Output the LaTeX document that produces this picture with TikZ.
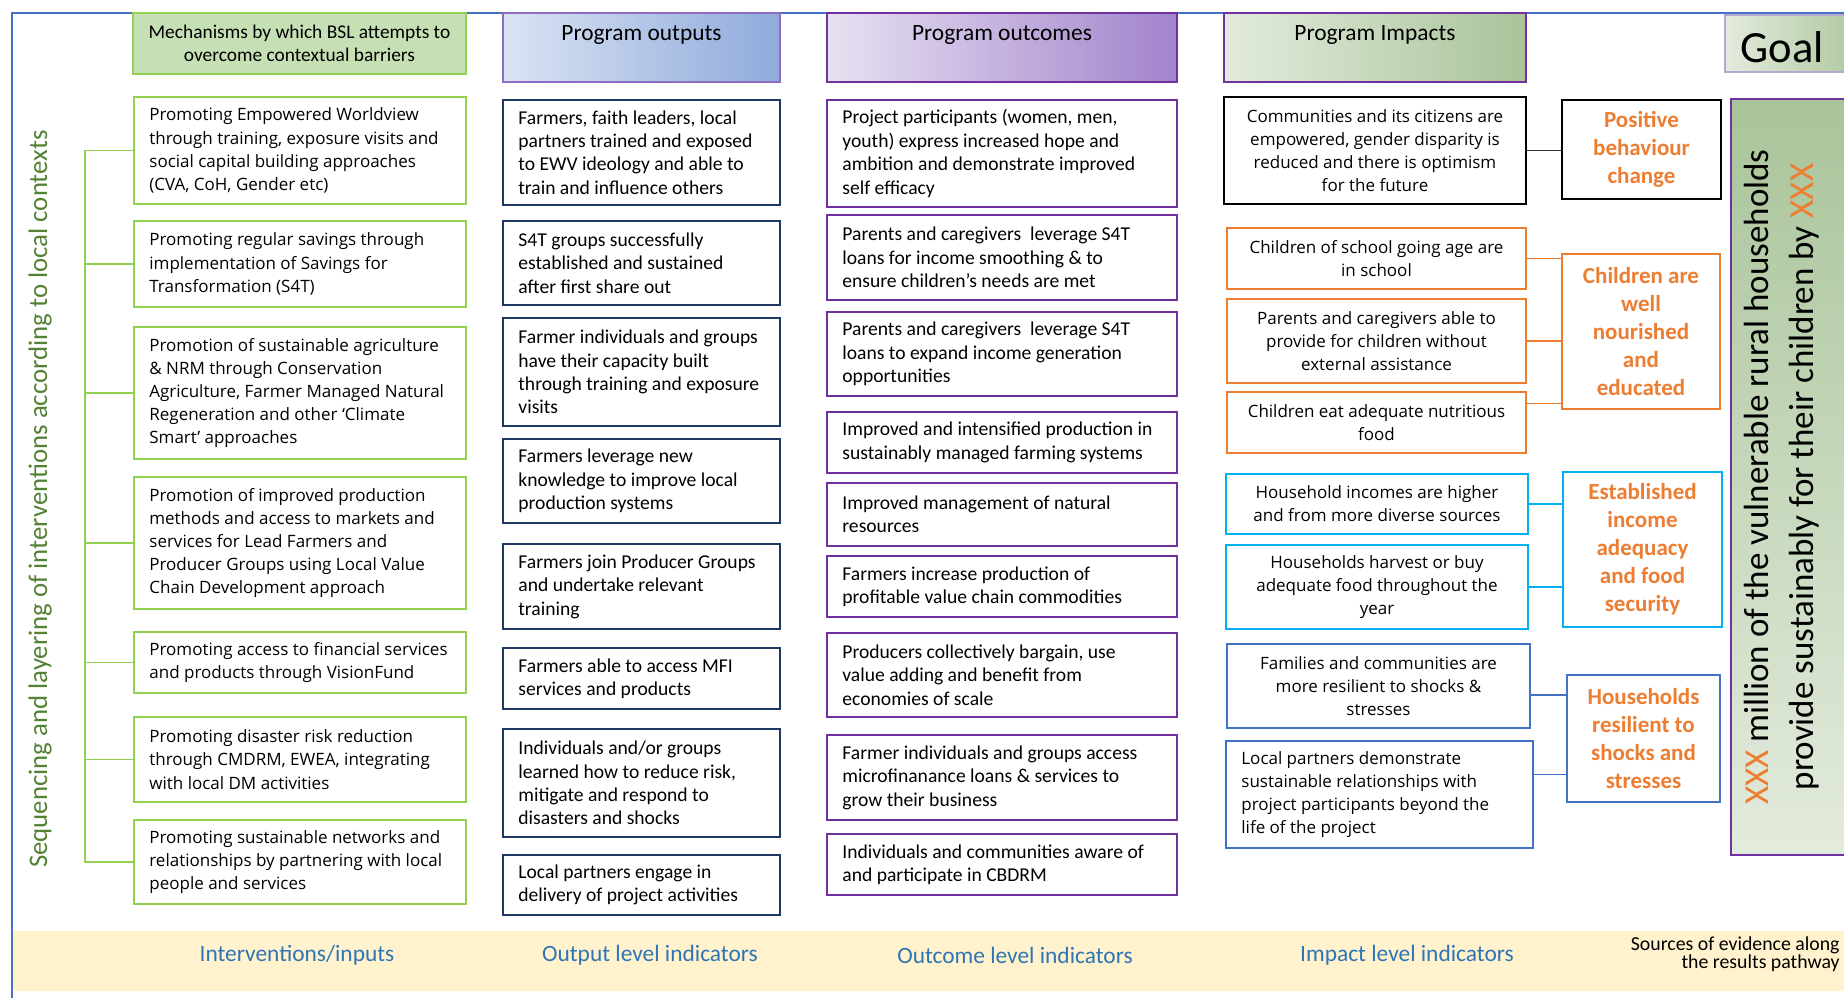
\documentclass[tikz,border=0pt]{standalone}
\usepackage{fontspec}
\setmainfont{Carlito}
\newfontfamily\osans{Open Sans}
\usetikzlibrary{calc}

\definecolor{frameblue}{HTML}{4472C4}
\definecolor{lgreen}{HTML}{92D050}
\definecolor{hgreen}{HTML}{C5E0B4}
\definecolor{navy}{HTML}{203864}
\definecolor{purp}{HTML}{7030A0}
\definecolor{lpurp}{HTML}{8E6CC4}
\definecolor{goalpurp}{HTML}{B4A7D6}
\definecolor{orng}{HTML}{ED7D31}
\definecolor{cyanb}{HTML}{00B0F0}
\definecolor{blueb}{HTML}{4472C4}
\definecolor{band}{HTML}{FFF2CC}
\definecolor{lblue}{HTML}{2E75B6}
\definecolor{dgreen}{HTML}{548235}
\definecolor{gdark}{HTML}{A9C49A}
\definecolor{glight}{HTML}{E3EBDD}
\definecolor{bluel}{HTML}{DAE3F3}
\definecolor{blued}{HTML}{8FAADC}
\definecolor{purl}{HTML}{E7E1F1}
\definecolor{purd}{HTML}{A283CC}

% rectangle node given by its corners (x1,y1) (x2,y2) in pixel units
\newcommand\rectnode[6]{%
  \pgfmathsetmacro\pcx{(#3+#5)/2}%
  \pgfmathsetmacro\pcy{(#4+#6)/2}%
  \pgfmathsetmacro\pw{(#5-#3)/2}%
  \pgfmathsetmacro\ph{(#6-#4)/2}%
  \node[#1, minimum width=\pw pt, minimum height=\ph pt] (#2) at (\pcx,\pcy)}

\begin{document}
\begin{tikzpicture}[x=0.5pt,y=-0.5pt,
  base/.style={draw, line width=1.1pt, inner sep=0pt, outer sep=0pt},
  ibox/.style={base, draw=lgreen},
  obox/.style={base, draw=navy},
  cbox/.style={base, draw=purp},
  kbox/.style={base, draw=black},
  orbox/.style={base, draw=orng},
  cybox/.style={base, draw=cyanb},
  blbox/.style={base, draw=blueb},
  wide/.style={font=\osans\fontsize{8.5}{11.6}\selectfont},
  narrow/.style={font=\fontsize{9.8}{11.7}\selectfont},
  ltext/.style={anchor=west, align=left, inner sep=0pt, xshift=7.5pt},
  ctext/.style={align=center, wide},
  sumtext/.style={align=center, text=orng, font=\bfseries\fontsize{11.5}{14}\selectfont},
  hdr/.style={font=\fontsize{11.7}{14}\selectfont, anchor=base, inner sep=0pt},
  botlab/.style={font=\fontsize{11.7}{14}\selectfont, text=lblue, inner sep=0pt},
  conn/.style={line width=0.7pt},
  brk/.style={line width=0.7pt, draw=lgreen}
]
\useasboundingbox (0,0) rectangle (1844,998);
\fill[white] (0,0) rectangle (1844,998);

% indicator band and outer frame
\fill[band] (13,931) rectangle (1844,991);
\draw[frameblue, line width=1pt] (12,998) -- (12,13) -- (1844,13);

% ---------- column headers ----------
\rectnode{base, draw=lgreen, fill=hgreen}{hmech}{133}{13}{466}{74}
  [align=center, font=\fontsize{9.7}{11.7}\selectfont]
  {Mechanisms by which BSL attempts to\\overcome contextual barriers};
\rectnode{base, draw=lpurp, left color=bluel, right color=blued}{hout}{503}{13}{780}{82} {};
\node[hdr] (houtT) at (641.5,40) {Program outputs};
\rectnode{base, draw=purp, left color=purl, right color=purd}{hoc}{827}{13}{1177}{82} {};
\node[hdr] (hocT) at (1002,40) {Program outcomes};
\rectnode{base, draw=purp, left color=glight, right color=gdark}{himp}{1224}{13}{1526}{82} {};
\node[hdr] (himpT) at (1375,40) {Program Impacts};
\rectnode{base, draw=goalpurp, left color=glight, right color=gdark}{goalH}{1725}{15}{1870}{72} {};
\node[anchor=base west, inner sep=0pt, font=\fontsize{22.3}{26}\selectfont] (goalHT) at (1740,62) {Goal};

% ---------- interventions ----------
\rectnode{ibox}{i1}{134}{97}{466}{204} {};
\node[ltext, wide] (i1t) at (i1.west) {Promoting Empowered Worldview\\through training, exposure visits and\\social capital building approaches\\(CVA, CoH, Gender etc)};
\rectnode{ibox}{i2}{134}{221}{466}{307} {};
\node[ltext, wide] (i2t) at (i2.west) {Promoting regular savings through\\implementation of Savings for\\Transformation (S4T)};
\rectnode{ibox}{i3}{134}{327}{466}{459} {};
\node[ltext, wide] (i3t) at (i3.west) {Promotion of sustainable agriculture\\\& NRM through Conservation\\Agriculture, Farmer Managed Natural\\Regeneration and other ‘Climate\\Smart’ approaches};
\rectnode{ibox}{i4}{134}{477}{466}{609} {};
\node[ltext, wide] (i4t) at (i4.west) {Promotion of improved production\\methods and access to markets and\\services for Lead Farmers and\\Producer Groups using Local Value\\Chain Development approach};
\rectnode{ibox}{i5}{134}{632}{466}{693} {};
\node[ltext, wide] (i5t) at (i5.west) {Promoting access to financial services\\and products through VisionFund};
\rectnode{ibox}{i6}{134}{717}{466}{802} {};
\node[ltext, wide] (i6t) at (i6.west) {Promoting disaster risk reduction\\through CMDRM, EWEA, integrating\\with local DM activities};
\rectnode{ibox}{i7}{134}{820}{466}{904} {};
\node[ltext, wide] (i7t) at (i7.west) {Promoting sustainable networks and\\relationships by partnering with local\\people and services};

% bracket joining the interventions
\coordinate (bt) at (85,0);
\draw[brk] (i1.west) -- (i1.west -| bt) -- (i7.west -| bt) -- (i7.west);
\foreach \n in {i2,i3,i4,i5,i6} \draw[brk] (\n.west) -- (\n.west -| bt);
\node[rotate=90, inner sep=0pt, text=dgreen, font=\fontsize{13.4}{16}\selectfont] (side) at (40,499)
  {Sequencing and layering of interventions according to local contexts};

% ---------- outputs ----------
\rectnode{obox}{o1}{503}{100}{780}{205} {};
\node[ltext, narrow] (o1t) at (o1.west) {Farmers, faith leaders, local\\partners trained and exposed\\to EWV ideology and able to\\train and influence others};
\rectnode{obox}{o2}{503}{221}{780}{305} {};
\node[ltext, narrow] (o2t) at (o2.west) {S4T groups successfully\\established and sustained\\after first share out};
\rectnode{obox}{o3}{503}{318}{780}{426} {};
\node[ltext, narrow] (o3t) at (o3.west) {Farmer individuals and groups\\have their capacity built\\through training and exposure\\visits};
\rectnode{obox}{o4}{503}{439}{780}{523} {};
\node[ltext, narrow] (o4t) at (o4.west) {Farmers leverage new\\knowledge to improve local\\production systems};
\rectnode{obox}{o5}{503}{544}{780}{629} {};
\node[ltext, narrow] (o5t) at (o5.west) {Farmers join Producer Groups\\and undertake relevant\\training};
\rectnode{obox}{o6}{503}{648}{780}{709} {};
\node[ltext, narrow] (o6t) at (o6.west) {Farmers able to access MFI\\services and products};
\rectnode{obox}{o7}{503}{729}{780}{837} {};
\node[ltext, narrow] (o7t) at (o7.west) {Individuals and/or groups\\learned how to reduce risk,\\mitigate and respond to\\disasters and shocks};
\rectnode{obox}{o8}{503}{855}{780}{915} {};
\node[ltext, narrow] (o8t) at (o8.west) {Local partners engage in\\delivery of project activities};

% ---------- outcomes ----------
\rectnode{cbox}{c1}{827}{100}{1177}{207} {};
\node[ltext, narrow] (c1t) at (c1.west) {Project participants (women, men,\\youth) express increased hope and\\ambition and demonstrate improved\\self efficacy};
\rectnode{cbox}{c2}{827}{215}{1177}{300} {};
\node[ltext, narrow] (c2t) at (c2.west) {Parents and caregivers\ \ leverage S4T\\loans for income smoothing \& to\\ensure children's needs are met};
\rectnode{cbox}{c3}{827}{312}{1177}{396} {};
\node[ltext, narrow] (c3t) at (c3.west) {Parents and caregivers\ \ leverage S4T\\loans to expand income generation\\opportunities};
\rectnode{cbox}{c4}{827}{412}{1177}{473} {};
\node[ltext, narrow] (c4t) at (c4.west) {Improved and intensified production in\\sustainably managed farming systems};
\rectnode{cbox}{c5}{827}{483}{1177}{546} {};
\node[ltext, narrow] (c5t) at (c5.west) {Improved management of natural\\resources};
\rectnode{cbox}{c6}{827}{556}{1177}{617} {};
\node[ltext, narrow] (c6t) at (c6.west) {Farmers increase production of\\profitable value chain commodities};
\rectnode{cbox}{c7}{827}{633}{1177}{717} {};
\node[ltext, narrow] (c7t) at (c7.west) {Producers collectively bargain, use\\value adding and benefit from\\economies of scale};
\rectnode{cbox}{c8}{827}{735}{1177}{820} {};
\node[ltext, narrow] (c8t) at (c8.west) {Farmer individuals and groups access\\microfinanance loans \& services to\\grow their business};
\rectnode{cbox}{c9}{827}{834}{1177}{895} {};
\node[ltext, narrow] (c9t) at (c9.west) {Individuals and communities aware of\\and participate in CBDRM};

% ---------- impacts ----------
\rectnode{kbox, ctext}{p1}{1224}{97}{1526}{204}
  {Communities and its citizens are\\empowered, gender disparity is\\reduced and there is optimism\\for the future};
\rectnode{orbox, ctext}{p2}{1227}{228}{1526}{289}
  {Children of school going age are\\in school};
\rectnode{orbox, ctext}{p3}{1227}{299}{1526}{383}
  {Parents and caregivers able to\\provide for children without\\external assistance};
\rectnode{orbox, ctext}{p4}{1227}{392}{1526}{453}
  {Children eat adequate nutritious\\food};
\rectnode{cybox, ctext}{p5}{1226}{474}{1528}{534}
  {Household incomes are higher\\and from more diverse sources};
\rectnode{cybox, ctext}{p6}{1226}{545}{1528}{629}
  {Households harvest or buy\\adequate food throughout the\\year};
\rectnode{blbox, ctext}{p7}{1227}{644}{1530}{728}
  {Families and communities are\\more resilient to shocks \&\\stresses};
\rectnode{blbox}{p8}{1226}{741}{1533}{848} {};
\node[ltext, wide] (p8t) at (p8.west) {Local partners demonstrate\\sustainable relationships with\\project participants beyond the\\life of the project};

% ---------- impact groups ----------
\rectnode{kbox, sumtext}{s1}{1562}{100}{1721}{199} {Positive\\behaviour\\change};
\rectnode{orbox, sumtext}{s2}{1562}{254}{1720}{409} {Children are\\well\\nourished\\and\\educated};
\rectnode{cybox, sumtext}{s3}{1563}{472}{1722}{627} {Established\\income\\adequacy\\and food\\security};
\rectnode{blbox, sumtext}{s4}{1567}{675}{1720}{802} {Households\\resilient to\\shocks and\\stresses};

\draw[conn, draw=black!80] (p1.east) -- (p1.east -| s1.west);
\draw[conn, draw=orng] (p2.east) -- (p2.east -| s2.west);
\draw[conn, draw=orng] (p3.east) -- (p3.east -| s2.west);
\draw[conn, draw=orng] ($(p4.east)+(0,-19)$) -- ($(p4.east -| s2.west)+(0,-19)$);
\draw[conn, draw=cyanb] (p5.east) -- (p5.east -| s3.west);
\draw[conn, draw=cyanb] (p6.east) -- (p6.east -| s3.west);
\draw[conn, draw=blueb] ($(p7.east)+(0,9)$) -- ($(p7.east -| s4.west)+(0,9)$);
\draw[conn, draw=blueb] ($(p8.east)+(0,-20)$) -- ($(p8.east -| s4.west)+(0,-20)$);

% ---------- goal ----------
\rectnode{base, draw=purp, top color=gdark, bottom color=glight}{goalB}{1731}{99}{1870}{855} {};
\node[rotate=90, align=center, inner sep=0pt, font=\fontsize{17.5}{22.5}\selectfont] (goalT) at (1782,477)
  {\textcolor{orng}{XXX} million of the vulnerable rural households\\provide sustainably for their children by \textcolor{orng}{XXX}};

% ---------- indicator labels ----------
\node[botlab] (l1) at (297,955) {Interventions/inputs};
\node[botlab] (l2) at (650,955) {Output level indicators};
\node[botlab] (l3) at (1015,955) {Outcome level indicators};
\node[botlab] (l4) at (1407,955) {Impact level indicators};
\node[anchor=east, align=right, inner sep=0pt, font=\fontsize{9.9}{9}\selectfont] (l5) at (1840,954)
  {Sources of evidence along\\the results pathway};
\end{tikzpicture}
\end{document}
